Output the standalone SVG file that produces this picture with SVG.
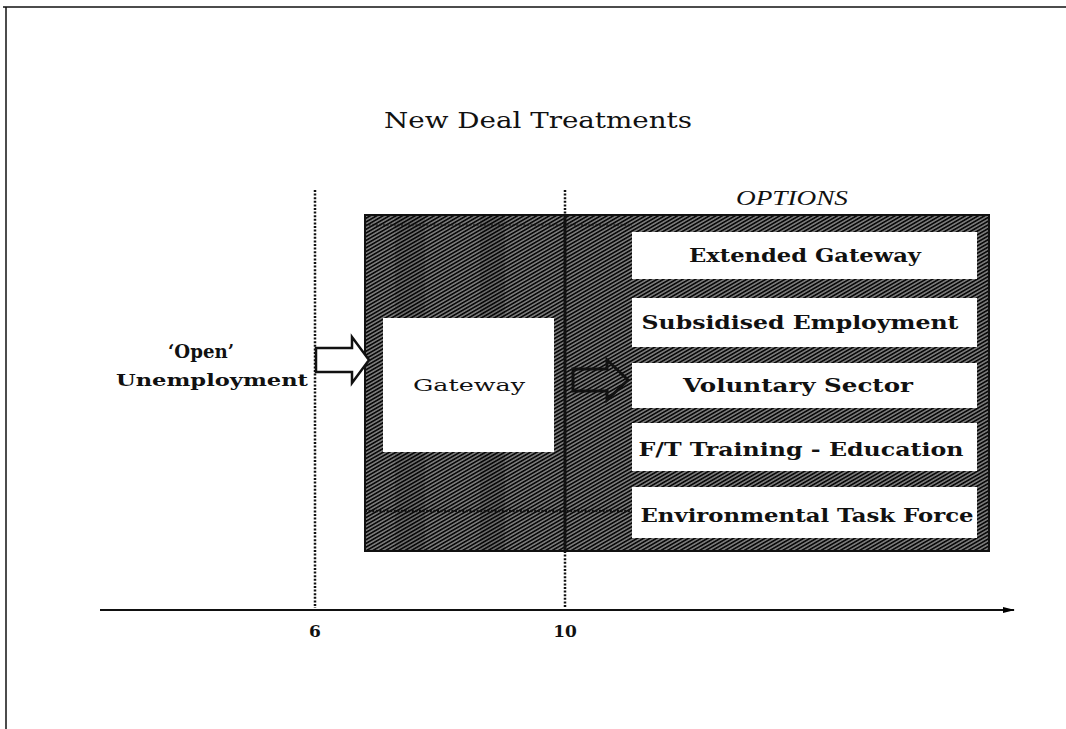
<svg xmlns="http://www.w3.org/2000/svg" width="1066" height="729" viewBox="0 0 1066 729">
  <defs>
    <!-- dense diagonal hatch used for the treatment period -->
    <pattern id="hatch" patternUnits="userSpaceOnUse" width="3.2" height="3.2" patternTransform="rotate(60)">
      <rect width="3.2" height="3.2" fill="#7c7c7c"/>
      <line x1="0.8" y1="0" x2="0.8" y2="3.2" stroke="#0a0a0a" stroke-width="1.7"/>
    </pattern>
    <marker id="axisHead" markerWidth="12" markerHeight="8" refX="11" refY="4" orient="auto" markerUnits="userSpaceOnUse">
      <path d="M0,1 L12,4 L0,7 Z" fill="#000"/>
    </marker>
    <style>
      .lbl { font-family: "DejaVu Serif", "Liberation Serif", serif; font-weight: bold; fill: #111; }
      .opt { font-size: 18px; text-anchor: middle; }
      .box { fill: #fff; }
      .dot { stroke: #111; stroke-width: 2.5; stroke-dasharray: 2 1.6; fill: none; }
    </style>
  </defs>

  <rect width="1066" height="729" fill="#fff"/>

  <!-- page frame -->
  <g id="frame" fill="none" stroke="#111" stroke-width="1.5">
    <line x1="3" y1="7" x2="1066" y2="7"/>
    <line x1="6" y1="7" x2="6" y2="729"/>
  </g>

  <!-- title -->
  <text x="538" y="128" font-family="DejaVu Serif, serif" font-size="23" text-anchor="middle" textLength="308" lengthAdjust="spacingAndGlyphs" fill="#111">New Deal Treatments</text>
  <text x="792" y="205" font-family="Liberation Serif, serif" font-style="italic" font-size="20" text-anchor="middle" textLength="112" lengthAdjust="spacingAndGlyphs" fill="#111">OPTIONS</text>

  <!-- treatment period -->
  <g id="period">
    <rect x="365" y="215" width="624" height="336" fill="url(#hatch)" stroke="#111" stroke-width="2"/>
    <rect x="395" y="215" width="30" height="336" fill="#000" opacity="0.12"/>
    <rect x="480" y="215" width="25" height="336" fill="#000" opacity="0.14"/>
    <line class="dot" x1="365" y1="225" x2="632" y2="225" stroke-width="1.2" opacity="0.6"/>
    <line class="dot" x1="365" y1="511" x2="632" y2="511" stroke-width="1.8"/>
    <line x1="565" y1="215" x2="565" y2="551" stroke="#111" stroke-width="3"/>
  </g>

  <!-- timeline -->
  <g id="timeline">
    <line class="dot" x1="315" y1="190" x2="315" y2="608"/>
    <line class="dot" x1="565" y1="190" x2="565" y2="215"/>
    <line class="dot" x1="565" y1="551" x2="565" y2="608"/>
    <line x1="100" y1="610" x2="1014" y2="610" stroke="#111" stroke-width="2" marker-end="url(#axisHead)"/>
    <text class="lbl" x="315" y="637" font-size="17" text-anchor="middle">6</text>
    <text class="lbl" x="565" y="637" font-size="17" text-anchor="middle">10</text>
  </g>

  <!-- entry state -->
  <g id="open-unemployment">
    <text class="lbl" x="201" y="358" font-size="18" text-anchor="middle" textLength="66" lengthAdjust="spacingAndGlyphs">‘Open’</text>
    <text class="lbl" x="212" y="386" font-size="17" text-anchor="middle" textLength="192" lengthAdjust="spacingAndGlyphs">Unemployment</text>
  </g>

  <!-- gateway -->
  <g id="gateway">
    <rect class="box" x="383" y="318" width="171" height="134"/>
    <text x="469" y="391" font-family="DejaVu Serif, serif" font-size="17" text-anchor="middle" textLength="112" lengthAdjust="spacingAndGlyphs" fill="#111">Gateway</text>
  </g>

  <!-- options -->
  <g id="opt-extended-gateway">
    <rect class="box" x="632" y="232" width="345" height="47"/>
    <text class="lbl opt" x="805" y="262" textLength="232" lengthAdjust="spacingAndGlyphs">Extended Gateway</text>
  </g>
  <g id="opt-subsidised-employment">
    <rect class="box" x="632" y="298" width="345" height="49"/>
    <text class="lbl opt" x="800" y="329" textLength="317" lengthAdjust="spacingAndGlyphs">Subsidised Employment</text>
  </g>
  <g id="opt-voluntary-sector">
    <rect class="box" x="632" y="363" width="345" height="45"/>
    <text class="lbl opt" x="798" y="392" textLength="230" lengthAdjust="spacingAndGlyphs">Voluntary Sector</text>
  </g>
  <g id="opt-ft-training">
    <rect class="box" x="632" y="423" width="345" height="48"/>
    <text class="lbl opt" x="801" y="456" textLength="325" lengthAdjust="spacingAndGlyphs">F/T Training - Education</text>
  </g>
  <g id="opt-environmental">
    <rect class="box" x="632" y="487" width="345" height="51"/>
    <text class="lbl opt" x="807" y="522" textLength="333" lengthAdjust="spacingAndGlyphs">Environmental Task Force</text>
  </g>

  <!-- block arrows -->
  <g id="connectors" stroke="#111" stroke-width="2.5" stroke-linejoin="miter">
    <path d="M316,348 L352,348 L352,337 L369,360 L352,383 L352,372 L316,372 Z" fill="#fff"/>
    <path d="M573,369 L607,369 L607,360 L628,380 L607,400 L607,391 L573,391 Z" fill="url(#hatch)" stroke-width="3"/>
  </g>
</svg>
